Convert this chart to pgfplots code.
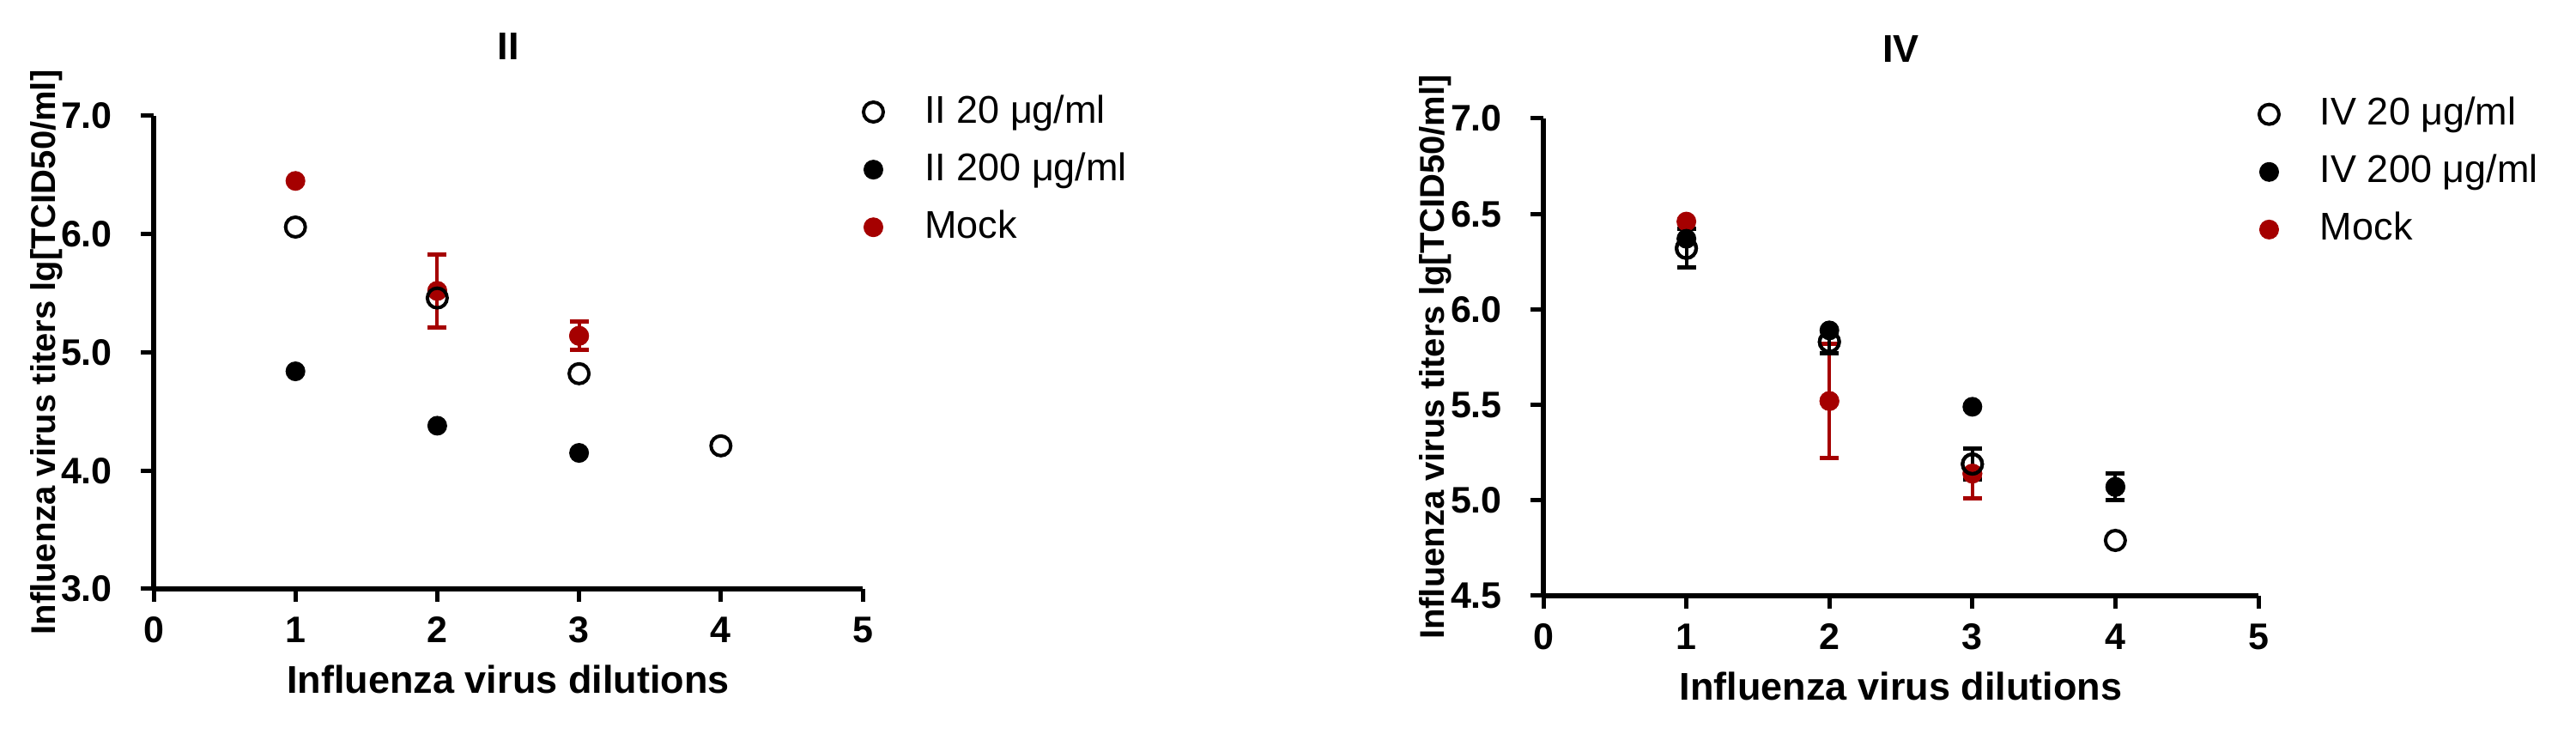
\documentclass[border=0pt]{standalone}
\usepackage{fontspec}
\setmainfont{Liberation Sans}
\usepackage{pgfplots}
\pgfplotsset{compat=1.18}
\definecolor{mockred}{RGB}{165,0,0}

\pgfplotsset{
  panel/.style={
    scale only axis, clip=false,
    axis x line=bottom, axis y line=left,
    axis line style={-, line width=1.3pt},
    every outer x axis line/.append style={-},
    every outer y axis line/.append style={-},
    tick align=outside, major tick length=3pt,
    major tick style={black, line width=1pt},
    xmin=0, xmax=5, xtick={0,1,...,5},
    tick label style={font=\bfseries\fontsize{8.6}{10}\selectfont},
    yticklabel style={xshift=-3.1pt},
    /pgf/number format/assume math mode=true,
    yticklabel style={/pgf/number format/.cd, fixed, fixed zerofill, precision=1},
    title style={font=\bfseries\fontsize{9}{10}\selectfont, at={(0.5,1)}, anchor=base, yshift=7pt},
    xlabel={Influenza virus dilutions},
    ylabel={Influenza virus titers lg[TCID50/ml]},
    xlabel style={font=\bfseries\fontsize{9}{10}\selectfont, at={(axis description cs:0.5,0)}, anchor=center, yshift=-21pt},
    ylabel style={font=\bfseries\fontsize{8}{9}\selectfont, at={(axis description cs:-0.151,0.5)}, anchor=center},
    legend cell align=left,
    legend image code/.code={\draw[mark repeat=1,##1] plot coordinates {(0pt,0pt)};},
    legend style={draw=none, fill=none, anchor=north west, inner sep=0pt,
      font=\fontsize{9}{10}\selectfont, row sep=1.4pt, column sep=7.6pt},
  },
  errs/.style={error bars/y dir=both, error bars/y explicit,
    error bars/error bar style={line width=0.8pt},
    error bars/error mark options={rotate=90, mark size=2.2pt, line width=1pt}},
  open/.style={only marks, black, mark=o, mark size=2.3pt, line width=0.8pt},
  full/.style={only marks, black, mark=*, mark size=2.1pt, line width=0.4pt},
  mock/.style={only marks, mockred, mark=*, mark size=2.1pt, line width=0.4pt},
}

\begin{document}
\begin{tikzpicture}
\useasboundingbox (0,0) rectangle (600.2pt,171pt);

% panel II
\begin{axis}[panel, at={(35.8pt,33.8pt)}, anchor=south west,
  width=165.2pt, height=110.2pt, title={II},
  ymin=3, ymax=7, ytick={3,4,5,6,7},
  legend style={at={(1.0,1.0645)}}]
\addplot[mock, errs, forget plot] coordinates {(2,5.52) +- (0,0.31) (3,5.14) +- (0,0.12)};
\addplot[mock, forget plot] coordinates {(1,6.45) (2,5.52) (3,5.14)};
\addplot[open] coordinates {(1,6.06) (2,5.46) (3,4.82) (4,4.21)};
\addlegendentry{II 20 μg/ml}
\addplot[full] coordinates {(1,4.84) (2,4.38) (3,4.15)};
\addlegendentry{II 200 μg/ml}
\addlegendimage{mock}
\addlegendentry{Mock}
\end{axis}

% panel IV
\begin{axis}[panel, at={(359.6pt,32.2pt)}, anchor=south west,
  width=166.6pt, height=111.2pt, title={IV},
  ymin=4.5, ymax=7, ytick={4.5,5,...,7},
  legend style={at={(1.0,1.0645)}}]
\addplot[mock, errs, forget plot] coordinates {(2,5.52) +- (0,0.30) (3,5.14) +- (0,0.13)};
\addplot[mock, forget plot] coordinates {(1,6.46) (2,5.52) (3,5.14)};
\addplot[open, errs, forget plot] coordinates {(1,6.32) +- (0,0.10) (2,5.83) +- (0,0.06) (3,5.19) +- (0,0.08)};
\addplot[open] coordinates {(1,6.32) (2,5.83) (3,5.19) (4,4.79)};
\addlegendentry{IV 20 μg/ml}
\addplot[full, errs, forget plot] coordinates {(4,5.07) +- (0,0.07)};
\addplot[full] coordinates {(1,6.37) (2,5.89) (3,5.49) (4,5.07)};
\addlegendentry{IV 200 μg/ml}
\addlegendimage{mock}
\addlegendentry{Mock}
\end{axis}
\end{tikzpicture}
\end{document}
